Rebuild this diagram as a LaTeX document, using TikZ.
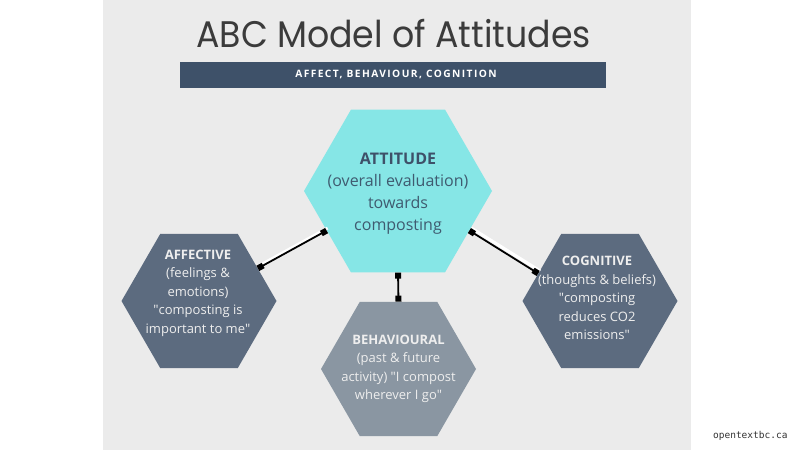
\documentclass[tikz,border=0pt]{standalone}
\usepackage{fontspec}
\setmainfont{Open Sans}
\newfontfamily\titlefont{Poppins}
\newfontfamily\barfont[LetterSpace=14]{Open Sans}
\newfontfamily\webfont{DejaVu Sans Mono}
\usetikzlibrary{shapes.geometric,arrows.meta}
\definecolor{panel}{HTML}{EBEBEB}
\definecolor{cyanhex}{HTML}{86E6E6}
\definecolor{darkhex}{HTML}{5C6B7F}
\definecolor{midhex}{HTML}{8A96A2}
\definecolor{barcol}{HTML}{3E5169}
\definecolor{titlecol}{HTML}{3B3B3B}
\definecolor{atttext}{HTML}{3F5B70}
\definecolor{lighttext}{HTML}{EEEEEE}
\newcommand{\q}{\textquotedbl}
\tikzset{
  hexbox/.style={regular polygon, regular polygon sides=6, inner sep=0pt, draw=none},
  bigtext/.style={align=center, font=\fontsize{16}{22}\selectfont, text=atttext},
  smalltext/.style={align=center, font=\fontsize{13}{18.5}\selectfont, text=lighttext},
  link/.style={draw=black, line width=1.8pt, {Square[length=6pt,width=6pt]}-{Square[length=6pt,width=6pt]}},
  shadowlink/.style={draw=white, line width=3pt}
}
\begin{document}
\begin{tikzpicture}[x=1pt,y=-1pt]
\useasboundingbox (0,0) rectangle (800,450);
\fill[white] (0,0) rectangle (800,450);
\fill[panel] (103,0) rectangle (691,450);
% title
\node[font=\titlefont\fontsize{37}{40}\selectfont, text=titlecol, anchor=base] (title) at (393.5,47) {\scalebox{0.94}[1]{ABC Model of Attitudes}};
\node[fill=barcol, minimum width=426pt, minimum height=26pt, inner sep=0pt] (bar) at (393,75) {};
\node[font=\barfont\bfseries\fontsize{10.2}{12}\selectfont, text=white] (bartext) at (396,74.5) {AFFECT, BEHAVIOUR, COGNITION};
% hexagons
\node[hexbox, fill=cyanhex, minimum size=188pt] (att) at (398,191) {};
\node[hexbox, fill=darkhex, minimum size=155pt] (aff) at (199,301) {};
\node[hexbox, fill=midhex, minimum size=155pt] (beh) at (398.5,369) {};
\node[hexbox, fill=darkhex, minimum size=155pt] (cog) at (600,301) {};
% texts
\node[bigtext] (atttxt) at (398,194) {{\bfseries\color{barcol}ATTITUDE}\\(overall evaluation)\\towards\\composting};
\node[smalltext] (afftxt) at (198,293) {{\bfseries AFFECTIVE}\\(feelings \&\\emotions)\\\q composting is\\important to me\q};
\node[smalltext] (behtxt) at (398.5,369) {{\bfseries BEHAVIOURAL}\\(past \& future\\activity) \q I compost\\wherever I go\q};
\node[smalltext] (cogtxt) at (597,298) {{\bfseries COGNITIVE}\\(thoughts \& beliefs)\\\q composting\\reduces CO2\\emissions\q};
% connectors
\draw[shadowlink, transform canvas={shift={(1pt,2.5pt)}}] (att.209) -- (aff.29);
\draw[shadowlink, transform canvas={shift={(2pt,2.5pt)}}] (att.-29) -- (cog.156);
\draw[link] (att.209) -- (aff.29);
\draw[link] (att.-29) -- (cog.156);
\draw[link] (att.south) -- (beh.north);
% credit
\node[font=\webfont\fontsize{9.5}{11}\selectfont, text=black!80, anchor=base east] (credit) at (791,438) {opentextbc.ca};
\end{tikzpicture}
\end{document}
